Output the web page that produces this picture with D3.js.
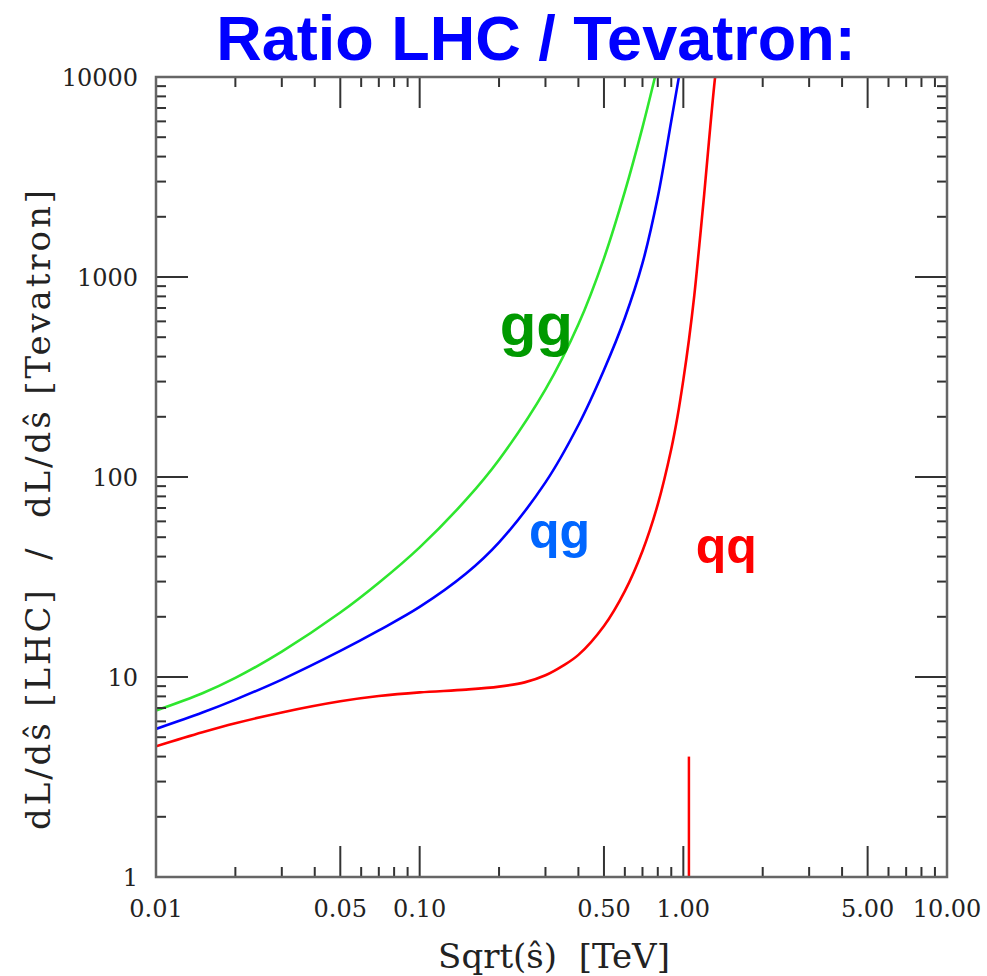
<!DOCTYPE html>
<html>
<head>
<meta charset="utf-8">
<script src="https://cdn.jsdelivr.net/npm/d3@7"></script>
<style>
  body { margin: 0; background: #fff; }
  svg text { white-space: pre; }
</style>
</head>
<body>
<div id="chart"></div>
<script>
// values (x in TeV, y = ratio)
var xGG = [0.01, 0.015, 0.02, 0.03, 0.05, 0.07, 0.1, 0.15, 0.2, 0.3, 0.4, 0.5, 0.6, 0.7, 0.78, 0.82]
var yGG = [6.8, 8.3, 9.9, 13.4, 21.0, 29.6, 44.5, 77, 122, 274, 580, 1240, 2670, 5600, 9940, 13100]

var xQG = [0.01, 0.015, 0.02, 0.03, 0.05, 0.07, 0.1, 0.15, 0.2, 0.3, 0.4, 0.5, 0.6, 0.7, 0.8, 0.9, 0.96, 1.0]
var yQG = [5.5, 6.64, 7.71, 9.71, 13.5, 17.1, 22.4, 32.9, 47.1, 94, 182, 343, 624, 1172, 2510, 6030, 9840, 13500]

var xQQ = [0.01, 0.015, 0.02, 0.03, 0.05, 0.07, 0.1, 0.15, 0.2, 0.25, 0.3, 0.35, 0.4, 0.5, 0.6, 0.7, 0.8, 0.9, 0.95, 1.0, 1.05, 1.1, 1.15, 1.2, 1.25, 1.32, 1.36]
var yQQ = [4.5, 5.29, 5.87, 6.65, 7.56, 8.03, 8.38, 8.65, 8.95, 9.4, 10.2, 11.4, 12.9, 18.0, 26.9, 42.7, 72.9, 138, 200, 306, 484, 804, 1445, 2600, 4730, 10000, 13500]

// red marker line
var markerX = 1.05
var markerY = [1, 4]

var xTickVals = [0.01, 0.05, 0.1, 0.5, 1, 5, 10]
var xTickText = ["0.01", "0.05", "0.10", "0.50", "1.00", "5.00", "10.00"]
var yTickVals = [1, 10, 100, 1000, 10000]
var yTickText = ["1", "10", "100", "1000", "10000"]

var labelText = ["gg", "qg", "qq"]
var labelX = [0.277, 0.339, 1.455]
var labelY = [457, 44, 37]

var width = 987
var height = 976

var pLeft = 156, pRight = 947, pTop = 77, pBottom = 877

var svg = d3.select("#chart")
    .append("svg")
    .attr("width", width)
    .attr("height", height)

var x = d3.scaleLog().domain([0.01, 10]).range([pLeft, pRight])
var y = d3.scaleLog().domain([1, 10000]).range([pBottom, pTop])

// title
svg.append("text")
    .attr("x", 536)
    .attr("y", 60)
    .attr("text-anchor", "middle")
    .style("font-family", "'Liberation Sans', Arial, sans-serif")
    .style("font-weight", "bold")
    .style("font-size", "63px")
    .style("fill", "#0000ff")
    .text("Ratio LHC / Tevatron:")

svg.append("clipPath").attr("id", "plotclip")
    .append("rect")
    .attr("x", pLeft).attr("y", pTop)
    .attr("width", pRight - pLeft).attr("height", pBottom - pTop)

var plot = svg.append("g").attr("clip-path", "url(#plotclip)")

var line = d3.line()
    .x(function(d) { return x(d[0]) })
    .y(function(d) { return y(d[1]) })
    .curve(d3.curveCatmullRom.alpha(0.5))

var series = [
    { xs: xGG, ys: yGG, color: "#2ee62e" },
    { xs: xQG, ys: yQG, color: "#0000ff" },
    { xs: xQQ, ys: yQQ, color: "#ff0000" }
]

series.forEach(function(s) {
    plot.append("path")
        .datum(d3.zip(s.xs, s.ys))
        .attr("d", line)
        .attr("fill", "none")
        .attr("stroke", s.color)
        .attr("stroke-width", 2.6)
})

plot.append("line")
    .attr("x1", x(markerX)).attr("x2", x(markerX))
    .attr("y1", y(markerY[0])).attr("y2", y(markerY[1]))
    .attr("stroke", "#ff0000")
    .attr("stroke-width", 2.5)

// ticks on all four sides
var tickColor = "#333"
var xt = x.ticks().filter(function(v) { return v > 0.0100001 && v < 9.9999 })
xt.forEach(function(v) {
    var major = xTickVals.some(function(t) { return Math.abs(t - v) / t < 1e-6 })
    var len = major ? 31 : 10
    svg.append("line").attr("x1", x(v)).attr("x2", x(v))
        .attr("y1", pBottom).attr("y2", pBottom - len)
        .attr("stroke", tickColor).attr("stroke-width", 2)
    svg.append("line").attr("x1", x(v)).attr("x2", x(v))
        .attr("y1", pTop).attr("y2", pTop + len)
        .attr("stroke", tickColor).attr("stroke-width", 2)
})
var yt = y.ticks().filter(function(v) { return v > 1.00001 && v < 9999.9 })
yt.forEach(function(v) {
    var major = yTickVals.some(function(t) { return Math.abs(t - v) / t < 1e-6 })
    var len = major ? 32 : 10
    svg.append("line").attr("y1", y(v)).attr("y2", y(v))
        .attr("x1", pLeft).attr("x2", pLeft + len)
        .attr("stroke", tickColor).attr("stroke-width", 2)
    svg.append("line").attr("y1", y(v)).attr("y2", y(v))
        .attr("x1", pRight).attr("x2", pRight - len)
        .attr("stroke", tickColor).attr("stroke-width", 2)
})

// frame
svg.append("rect")
    .attr("x", pLeft).attr("y", pTop)
    .attr("width", pRight - pLeft).attr("height", pBottom - pTop)
    .attr("fill", "none")
    .attr("stroke", "#666")
    .attr("stroke-width", 2.5)

// tick labels
var serif = "'DejaVu Serif', serif"
svg.selectAll(".xlab")
    .data(xTickVals)
    .enter()
    .append("text")
    .attr("x", function(d) { return x(d) })
    .attr("y", 917)
    .attr("text-anchor", "middle")
    .style("font-family", serif)
    .style("font-size", "24px")
    .style("fill", "#222")
    .text(function(d, i) { return xTickText[i] })

svg.selectAll(".ylab")
    .data(yTickVals)
    .enter()
    .append("text")
    .attr("x", 138)
    .attr("y", function(d) { return y(d) + 9 })
    .attr("text-anchor", "end")
    .style("font-family", serif)
    .style("font-size", "24px")
    .style("fill", "#222")
    .text(function(d, i) { return yTickText[i] })

// axis titles
svg.append("text")
    .attr("x", 554)
    .attr("y", 968)
    .attr("text-anchor", "middle")
    .style("font-family", serif)
    .style("font-size", "34px")
    .style("fill", "#222")
    .text("Sqrt(ŝ)  [TeV]")

svg.append("text")
    .attr("transform", "translate(50,510) rotate(-90)")
    .attr("text-anchor", "middle")
    .attr("textLength", 640)
    .attr("lengthAdjust", "spacing")
    .style("font-family", serif)
    .style("font-size", "34px")
    .style("fill", "#222")
    .text("dL/dŝ [LHC]  /  dL/dŝ [Tevatron]")

// curve labels
var labelColor = ["#009900", "#0066ff", "#ff0000"]
var labelSize = ["60px", "50px", "50px"]
svg.selectAll(".clab")
    .data(labelText)
    .enter()
    .append("text")
    .attr("x", function(d, i) { return x(labelX[i]) })
    .attr("y", function(d, i) { return y(labelY[i]) })
    .attr("text-anchor", "middle")
    .style("font-family", "'Liberation Sans', Arial, sans-serif")
    .style("font-weight", "bold")
    .style("font-size", function(d, i) { return labelSize[i] })
    .style("fill", function(d, i) { return labelColor[i] })
    .text(function(d) { return d })
</script>
</body>
</html>
